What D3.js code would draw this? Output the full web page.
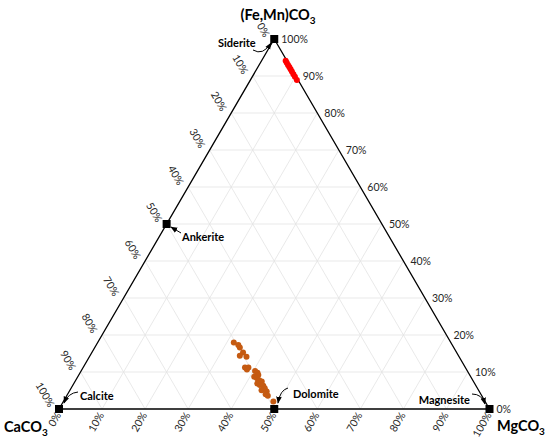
<!DOCTYPE html>
<html>
<head>
<meta charset="utf-8">
<script src="https://d3js.org/d3.v7.min.js"></script>
<style>
  body { margin: 0; background: #fff; }
  .tick-label { font-family: Lato, "Liberation Sans", sans-serif; font-size: 10.5px; fill: #262626; }
  .apex { font-family: Lato, "Liberation Sans", sans-serif; font-size: 14.5px; font-weight: bold; fill: #000; }
  .mineral { font-family: Lato, "Liberation Sans", sans-serif; font-size: 11px; font-weight: bold; fill: #000; }
  .grid line { stroke: #e3e3e3; stroke-width: 0.8; }
</style>
</head>
<body>
<svg id="chart"></svg>
<script>
// ternary data, percent (CaCO3, MgCO3, (Fe,Mn)CO3)
var redFeMn = [94.1, 93.6, 93.0, 92.4, 91.8, 91.2, 90.5, 89.8, 88.9];
var redCa   = [0.3, 0.3, 0.3, 0.3, 0.3, 0.3, 0.3, 0.3, 0.3];

var orangeCa   = [50.4, 49.7, 49.7, 49.6, 50.8, 49.4, 51.2, 50.4, 51.0, 49.3, 49.0, 49.1, 50.3,
                  49.9, 49.6, 49.2, 50.5, 50.1, 49.4, 49.4, 50.4, 49.4, 50.0, 49.7, 49.2];
var orangeFeMn = [18.0, 17.3, 16.6, 15.3, 14.4, 14.1, 11.2, 11.2, 10.7, 10.3, 9.8, 9.2, 8.7,
                  8.3, 7.8, 7.4, 6.9, 6.5, 6.3, 5.6, 5.1, 4.7, 4.0, 3.6, 2.0];

var tickValues = [0, 10, 20, 30, 40, 50, 60, 70, 80, 90, 100];

// end members and their composition (Ca, Mg, FeMn)
var minerals = ["Siderite", "Ankerite", "Calcite", "Dolomite", "Magnesite"];
var mineralCa = [0, 50, 100, 50, 0];
var mineralMg = [0, 0, 0, 50, 100];
var mineralFe = [100, 50, 0, 0, 0];

var width = 550, height = 439;
var svg = d3.select("#chart").attr("width", width).attr("height", height);

// base runs CaCO3 (left) -> MgCO3 (right), height is (Fe,Mn)CO3
var xScale = d3.scaleLinear().domain([0, 100]).range([59, 489.5]);
var yScale = d3.scaleLinear().domain([0, 100]).range([409, 39]);

function pt(ca, mg, fe) {
    return [xScale(mg + fe / 2), yScale(fe)];
}

// grid
var grid = svg.append("g").attr("class", "grid");
d3.range(10, 100, 10).forEach(function (v) {
    var lines = [
        [pt(100 - v, 0, v), pt(0, 100 - v, v)],   // FeMn const
        [pt(100 - v, v, 0), pt(0, v, 100 - v)],   // Mg const
        [pt(v, 100 - v, 0), pt(v, 0, 100 - v)]    // Ca const
    ];
    lines.forEach(function (l) {
        grid.append("line")
            .attr("x1", l[0][0]).attr("y1", l[0][1])
            .attr("x2", l[1][0]).attr("y2", l[1][1]);
    });
});

// frame
var corners = [pt(100, 0, 0), pt(0, 100, 0), pt(0, 0, 100)];
svg.append("path")
    .attr("d", d3.line()(corners) + "Z")
    .attr("fill", "none")
    .attr("stroke", "#000")
    .attr("stroke-width", 1.3);

// right axis: (Fe,Mn)CO3
svg.append("g").selectAll("text")
    .data(tickValues).enter().append("text")
    .attr("class", "tick-label")
    .attr("x", function (d) { return pt(0, 100 - d, d)[0] + 7; })
    .attr("y", function (d) { return pt(0, 100 - d, d)[1]; })
    .attr("dominant-baseline", "central")
    .text(function (d) { return d + "%"; });

// left axis: CaCO3
svg.append("g").selectAll("text")
    .data(tickValues).enter().append("text")
    .attr("class", "tick-label")
    .attr("text-anchor", "end")
    .attr("dominant-baseline", "central")
    .attr("transform", function (d) {
        var p = pt(d, 0, 100 - d);
        return "translate(" + (p[0] - 7) + "," + (p[1] - 3) + ") rotate(60)";
    })
    .text(function (d) { return d + "%"; });

// bottom axis: MgCO3
svg.append("g").selectAll("text")
    .data(tickValues).enter().append("text")
    .attr("class", "tick-label")
    .attr("text-anchor", "end")
    .attr("dominant-baseline", "central")
    .attr("transform", function (d) {
        var p = pt(100 - d, d, 0);
        return "translate(" + (p[0] - 1) + "," + (p[1] + 4) + ") rotate(-60)";
    })
    .text(function (d) { return d + "%"; });

// apex titles
function formula(x, y, anchor, pre) {
    var t = svg.append("text").attr("class", "apex")
        .attr("x", x).attr("y", y).attr("text-anchor", anchor);
    t.append("tspan").text(pre);
    t.append("tspan").attr("font-size", "10px").attr("dy", 4).text("3");
}
formula(278, 20, "middle", "(Fe,Mn)CO");
formula(4, 432, "start", "CaCO");
formula(497, 431, "start", "MgCO");

// arrows
svg.append("defs").append("marker")
    .attr("id", "arrow")
    .attr("viewBox", "0 0 10 10")
    .attr("refX", 9).attr("refY", 5)
    .attr("markerWidth", 7).attr("markerHeight", 7)
    .attr("orient", "auto")
    .append("path").attr("d", "M0,1 L10,5 L0,9 Z").attr("fill", "#000");

var arrowPaths = [
    "M253,50 Q263,56 271,43",
    "M181,233 L171,227",
    "M78,392 Q68,393 64,403",
    "M288,388 Q280,390 278,403",
    "M472,394 Q482,394 485,404"
];
svg.append("g").selectAll("path")
    .data(arrowPaths).enter().append("path")
    .attr("d", function (d) { return d; })
    .attr("fill", "none")
    .attr("stroke", "#000")
    .attr("stroke-width", 1)
    .attr("marker-end", "url(#arrow)");

var labelPos = [[218, 42, "start"], [182, 236, "start"], [80, 395, "start"], [293, 393, "start"], [470, 399, "end"]];
svg.append("g").selectAll("text")
    .data(minerals).enter().append("text")
    .attr("class", "mineral")
    .attr("x", function (d, i) { return labelPos[i][0]; })
    .attr("y", function (d, i) { return labelPos[i][1]; })
    .attr("text-anchor", function (d, i) { return labelPos[i][2]; })
    .attr("dominant-baseline", "central")
    .text(function (d) { return d; });

// data points
svg.append("g").selectAll("circle")
    .data(orangeCa).enter().append("circle")
    .attr("cx", function (d, i) { return pt(d, 100 - d - orangeFeMn[i], orangeFeMn[i])[0]; })
    .attr("cy", function (d, i) { return pt(d, 100 - d - orangeFeMn[i], orangeFeMn[i])[1]; })
    .attr("r", 3)
    .attr("fill", "#c55a11");

svg.append("g").selectAll("circle")
    .data(redFeMn).enter().append("circle")
    .attr("cx", function (d, i) { return pt(redCa[i], 100 - d - redCa[i], d)[0]; })
    .attr("cy", function (d, i) { return pt(redCa[i], 100 - d - redCa[i], d)[1]; })
    .attr("r", 3)
    .attr("fill", "#ff0000");

// end-member squares
svg.append("g").selectAll("rect")
    .data(minerals).enter().append("rect")
    .attr("x", function (d, i) { return pt(mineralCa[i], mineralMg[i], mineralFe[i])[0] - 4; })
    .attr("y", function (d, i) { return pt(mineralCa[i], mineralMg[i], mineralFe[i])[1] - 4; })
    .attr("width", 8).attr("height", 8)
    .attr("fill", "#000");
</script>
</body>
</html>
